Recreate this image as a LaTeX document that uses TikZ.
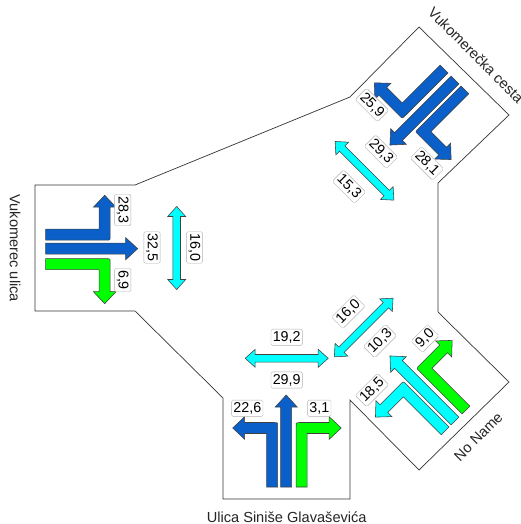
\documentclass[tikz,border=0pt]{standalone}
\usepackage{fontspec}
\setmainfont{Liberation Sans}
\definecolor{lblue}{RGB}{10,95,200}
\definecolor{lcyan}{RGB}{0,255,255}
\definecolor{lgreen}{RGB}{0,255,0}
\tikzset{
  lane/.style={draw=black!75, line width=0.55pt, line join=miter},
  outline/.style={draw=black!80, line width=0.7pt, line join=miter},
  val/.style={draw=black!30, fill=white, line width=0.4pt, rounded corners=1.5pt,
    inner xsep=1.8pt, inner ysep=2.2pt, font=\fontsize{14.3}{15}\selectfont},
  road/.style={inner sep=0pt, text=black!85, font=\fontsize{14.6}{15}\selectfont}
}
% straight lane arrow: #1 lateral offset, #2 fill
\newcommand\laneS[2]{\draw[lane,fill=#2] ({#1-5.5},0) -- ({#1-5.5},-80) -- ({#1-11},-80) -- (#1,-92) -- ({#1+11},-80) -- ({#1+5.5},-80) -- ({#1+5.5},0) -- cycle;}
% left-turn lane arrow
\newcommand\laneL[2]{\draw[lane,fill=#2] ({#1+5.5},0) -- ({#1+5.5},-60.5) .. controls ({#1+5.5},-64.5) .. ({#1+1.5},-64.5) -- ({#1-27.5},-64.5) -- ({#1-27.5},-70.3) -- ({#1-39.5},-59) -- ({#1-27.5},-47.7) -- ({#1-27.5},-53.5) -- ({#1-5.5},-53.5) -- ({#1-5.5},0) -- cycle;}
% right-turn lane arrow
\newcommand\laneR[2]{\draw[lane,fill=#2] ({#1-5.5},0) -- ({#1-5.5},-60.5) .. controls ({#1-5.5},-64.5) .. ({#1-1.5},-64.5) -- ({#1+27.5},-64.5) -- ({#1+27.5},-70.3) -- ({#1+39.5},-59) -- ({#1+27.5},-47.7) -- ({#1+27.5},-53.5) -- ({#1+5.5},-53.5) -- ({#1+5.5},0) -- cycle;}
% pedestrian double arrow
\newcommand\pedarrow{\draw[lane,fill=lcyan] (-41.5,0) -- (-31.5,-9) -- (-31.5,-3.8) -- (31.5,-3.8) -- (31.5,-9) -- (41.5,0) -- (31.5,9) -- (31.5,3.8) -- (-31.5,3.8) -- (-31.5,9) -- cycle;}
\begin{document}
\begin{tikzpicture}[x=1pt,y=-1pt]
\useasboundingbox (0,0) rectangle (520,524);
\fill[white] (0,0) rectangle (520,524);

% intersection outline
\draw[outline] (419,27) -- (509,115) -- (438,183) -- (438,312) -- (509,382) -- (419,470) -- (350,400) -- (350,499) -- (223,499) -- (223,398) -- (135,311) -- (35,311) -- (35,185) -- (135,185) -- (350,97) -- cycle;

% approach: Ulica Sinise Glavasevica (bottom)
\begin{scope}[shift={(286.2,487)}]
  \laneL{-14}{lblue}
  \laneS{0}{lblue}
  \laneR{15.5}{lgreen}
\end{scope}
% approach: Vukomerec ulica (left)
\begin{scope}[shift={(45.7,248.7)},rotate=-90]
  \laneL{-14}{lblue}
  \laneS{0}{lblue}
  \laneR{15.5}{lgreen}
\end{scope}
% approach: Vukomerecka cesta (top right)
\begin{scope}[shift={(455,80)},rotate=135]
  \laneL{-14}{lblue}
  \laneS{0}{lblue}
  \laneR{15.5}{lblue}
\end{scope}
% approach: No Name (bottom right)
\begin{scope}[shift={(455,421)},rotate=45]
  \laneL{-14}{lcyan}
  \laneS{0}{lcyan}
  \laneR{15.5}{lgreen}
\end{scope}

% pedestrian crossings
\begin{scope}[shift={(176.7,248)},rotate=90]\pedarrow\end{scope}
\begin{scope}[shift={(364.5,170.8)},rotate=-45]\pedarrow\end{scope}
\begin{scope}[shift={(363.7,327.5)},rotate=45]\pedarrow\end{scope}
\begin{scope}[shift={(286.7,358.3)}]\pedarrow\end{scope}

% values: left
\node[val,rotate=-90] (vL1) at (122.7,210) {28,3};
\node[val,rotate=-90] (vL2) at (152,247.5) {32,5};
\node[val,rotate=-90] (vL3) at (122.7,280) {6,9};
\node[val,rotate=-90] (vL4) at (194.5,247.5) {16,0};
% values: bottom
\node[val] (vB1) at (247.3,408.3) {22,6};
\node[val] (vB2) at (286.7,380) {29,9};
\node[val] (vB3) at (319.3,408.3) {3,1};
\node[val] (vB4) at (286.7,337.3) {19,2};
% values: top right
\node[val,rotate=-45] (vT1) at (372,105) {25,9};
\node[val,rotate=-45] (vT2) at (381,151.7) {29,3};
\node[val,rotate=-45] (vT3) at (427,163.3) {28,1};
\node[val,rotate=-45] (vT4) at (349,186.7) {15,3};
% values: no name
\node[val,rotate=45] (vN1) at (348.3,311.7) {16,0};
\node[val,rotate=45] (vN2) at (380,341) {10,3};
\node[val,rotate=45] (vN3) at (425,338.5) {9,0};
\node[val,rotate=45] (vN4) at (372,390) {18,5};

% road names
\node[road,rotate=-90] (rL) at (15,248.3) {Vukomerec ulica};
\node[road] (rB) at (286.7,516.7) {Ulica Siniše Glavaševića};
\node[road,rotate=45] (rN) at (478.3,436.7) {No Name};
\node[road,rotate=-45,anchor=base west] (rT) at (427,13.5) {Vukomerečka cesta};
\end{tikzpicture}
\end{document}
